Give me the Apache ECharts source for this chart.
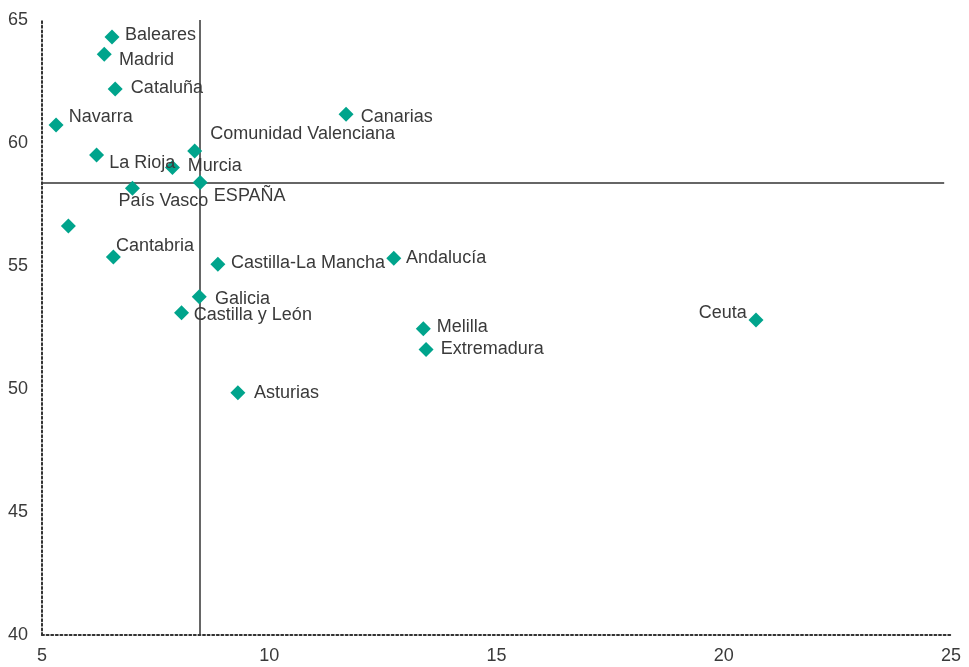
<!DOCTYPE html>
<html>
<head>
<meta charset="utf-8">
<script src="https://cdn.jsdelivr.net/npm/echarts@6/dist/echarts.min.js"></script>
<style>
html,body{margin:0;padding:0;background:#fff;}
#chart{width:969px;height:667px;}
</style>
</head>
<body>
<div id="chart"></div>
<script>
// Data
const regions = ["Baleares","Madrid","Cataluña","Navarra","Canarias","Comunidad Valenciana","La Rioja","Murcia","ESPAÑA","País Vasco","","Cantabria","Castilla-La Mancha","Andalucía","Galicia","Castilla y León","Melilla","Extremadura","Ceuta","Asturias"];
const xValues = [6.54, 6.37, 6.61, 5.31, 11.69, 8.36, 6.20, 7.87, 8.48, 6.99, 5.58, 6.57, 8.87, 12.74, 8.46, 8.07, 13.39, 13.45, 20.71, 9.31];
const yValues = [64.31, 63.61, 62.20, 60.73, 61.17, 59.67, 59.51, 59.00, 58.39, 58.16, 56.63, 55.37, 55.07, 55.31, 53.75, 53.10, 52.45, 51.61, 52.80, 49.85];
const xTicks = [5, 10, 15, 20, 25];
const yTicks = [40, 45, 50, 55, 60, 65];
const refX = 8.48;
const refY = 58.4;

// Label placement (style only)
const labelOffsets = {
  "Baleares": [5.5, -1.7],
  "Madrid": [7.2, 5.7],
  "Cataluña": [8.2, -1],
  "Navarra": [5.2, -8.3],
  "Canarias": [7.2, 2.4],
  "Comunidad Valenciana": [8.1, -16.7],
  "La Rioja": [5.1, 8.3],
  "Murcia": [7.9, -1.7],
  "ESPAÑA": [6.2, 13],
  "País Vasco": [-21.5, 12.7],
  "Cantabria": [-4.8, -11.3],
  "Castilla-La Mancha": [5.5, -1.3],
  "Andalucía": [4.8, -0.3],
  "Galicia": [8.2, 2.3],
  "Castilla y León": [4.8, 2.3],
  "Melilla": [5.9, -1.7],
  "Extremadura": [7.2, -0.6],
  "Asturias": [8.5, 0],
  "Ceuta": [-1.8, -7.3]
};

const FONT = "'Liberation Sans', Arial, Helvetica, sans-serif";
const TEXT = "#3a3a3a";
const LINE = "#333333";
const TEAL = "#00a48c";

const points = regions.map((name, i) => {
  const off = labelOffsets[name] || [0, 0];
  return {
    name: name,
    value: [xValues[i], yValues[i]],
    label: {
      show: name !== "",
      position: name === "Ceuta" ? "left" : "right",
      distance: 0,
      offset: off
    }
  };
});

const chart = echarts.init(document.getElementById('chart'), null, {renderer: 'canvas'});
chart.setOption({
  animation: false,
  backgroundColor: '#ffffff',
  grid: {left: 42, right: 18, top: 20, bottom: 32, containLabel: false},
  xAxis: {
    type: 'value',
    min: xTicks[0],
    max: xTicks[xTicks.length - 1],
    interval: 5,
    axisLine: {show: true, lineStyle: {color: LINE, width: 2, type: [2, 2.6]}},
    axisTick: {show: false},
    splitLine: {show: false},
    axisLabel: {color: TEXT, fontSize: 18, fontFamily: FONT, margin: 12}
  },
  yAxis: {
    type: 'value',
    min: yTicks[0],
    max: yTicks[yTicks.length - 1],
    interval: 5,
    axisLine: {show: true, lineStyle: {color: LINE, width: 2, type: [2, 2.6]}},
    axisTick: {show: false},
    splitLine: {show: false},
    axisLabel: {color: TEXT, fontSize: 18, fontFamily: FONT, margin: 14}
  },
  series: [{
    type: 'scatter',
    symbol: 'diamond',
    symbolSize: 15,
    itemStyle: {color: TEAL, opacity: 1},
    label: {color: TEXT, fontSize: 18, fontFamily: FONT, formatter: '{b}', opacity: 1},
    data: points,
    z: 3,
    markLine: {
      silent: true,
      symbol: ['none', 'none'],
      label: {show: false},
      lineStyle: {color: LINE, width: 1.5, type: 'solid', opacity: 1},
      z: 1,
      data: [
        [{coord: [refX, yTicks[yTicks.length - 1]]}, {coord: [refX, yTicks[0]]}],
        [{coord: [xTicks[0], refY]}, {coord: [24.85, refY]}]
      ]
    }
  }]
});
</script>
</body>
</html>
